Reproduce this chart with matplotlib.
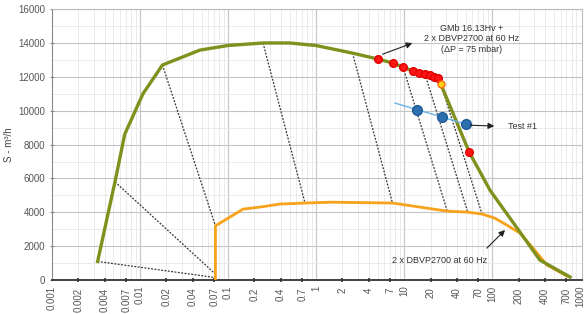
#Pump-down chart: roots + screw pump curves on log pressure axis.

import numpy as np
import matplotlib.pyplot as plt
from matplotlib.ticker import FixedLocator

# green curve: GMb 16.13Hv + 2 x DBVP2700
green_x = [0.0033, 0.0052, 0.0067, 0.0108, 0.018, 0.048, 0.1, 0.25, 0.5, 1.0, 2.6, 5.07,
           7.5, 9.75, 12.7, 14.8, 17.3, 19.6, 21.8, 24.1, 26.2, 55, 95, 208, 350, 770]
green_y = [1100, 5800, 8600, 11000, 12700, 13580, 13850, 14000, 14000, 13850, 13400, 13050,
           12810, 12575, 12340, 12220, 12160, 12100, 11985, 11925, 11570, 7560, 5300, 2830, 1180, 180]

# orange curve: 2 x DBVP2700 at 60 Hz
orange_x = [0.072, 0.072, 0.148, 0.23, 0.39, 0.75, 1.5, 7.4, 31, 53, 77, 107, 147, 208, 292, 420, 710]
orange_y = [0, 3200, 4190, 4310, 4490, 4550, 4600, 4550, 4070, 4010, 3900, 3660, 3250, 2770, 1890, 890, 240]

# measured points (red) and the last yellow one
red_x = [5.07, 7.5, 9.75, 12.7, 14.8, 17.3, 19.6, 21.8, 24.1, 55]
red_y = [13050, 12810, 12575, 12340, 12220, 12160, 12100, 11985, 11925, 7560]
yellow_x = [26.2]
yellow_y = [11570]

# Test #1
test_x = [14.1, 27, 50.7]
test_y = [10040, 9620, 9210]
test_line_x = [7.9, 55]
test_line_y = [10450, 9150]

# dotted connectors (green -> orange)
conn_start_x = [0.0033, 0.0052, 0.018, 0.25, 2.6, 9.75, 17.3, 26.2]
conn_start_y = [1100, 5800, 12700, 14000, 13400, 12575, 12160, 11570]
conn_end_x = [0.072, 0.072, 0.072, 0.75, 7.4, 31, 53, 77]
conn_end_y = [150, 350, 3200, 4550, 4550, 4070, 4010, 3900]

decade_ticks = [0.001, 0.01, 0.1, 1, 10, 100, 1000]
decade_labels = ['0.001', '0.01', '0.1', '1', '10', '100', '1000']
mid_ticks = [0.002, 0.004, 0.007, 0.02, 0.04, 0.07, 0.2, 0.4, 0.7, 2, 4, 7,
             20, 40, 70, 200, 400, 700]
mid_labels = ['0.002', '0.004', '0.007', '0.02', '0.04', '0.07', '0.2', '0.4', '0.7',
              '2', '4', '7', '20', '40', '70', '200', '400', '700']


def main():
    plt.rcParams['font.family'] = ['Liberation Sans', 'DejaVu Sans']
    fig = plt.figure(figsize=(5.86, 3.14), dpi=100)
    ax = fig.add_axes([0.0887, 0.108, 0.9043, 0.863])

    ax.set_xscale('log')
    ax.set_xlim(0.001, 1050)
    ax.set_ylim(0, 16000)

    # grid
    ax.set_yticks(np.arange(0, 16001, 2000))
    ax.set_yticks(np.arange(1000, 16000, 2000), minor=True)
    ax.grid(axis='y', which='major', color='#c4c4c4', lw=0.8, zorder=0)
    ax.grid(axis='y', which='minor', color='#e6e6e6', lw=0.6, zorder=0)
    fine = [m * d for d in decade_ticks[:-1] for m in range(2, 10)]
    ax.vlines(fine, 0, 1, transform=ax.get_xaxis_transform(), color='#e8e8e8', lw=0.6, zorder=0)
    ax.vlines(decade_ticks[1:-1], 0, 1, transform=ax.get_xaxis_transform(), color='#c4c4c4', lw=0.8, zorder=0)

    ax.xaxis.set_major_locator(FixedLocator(decade_ticks))
    ax.set_xticklabels(decade_labels)
    ax.xaxis.set_minor_locator(FixedLocator(mid_ticks))
    ax.set_xticks(mid_ticks, mid_labels, minor=True)
    for lab in ax.get_xticklabels(which='both'):
        lab.set_rotation(90)
    ax.tick_params(axis='x', which='major', length=0, labelsize=7, labelcolor='#555555', pad=4)
    ax.tick_params(axis='x', which='minor', length=3, width=1.2, direction='inout', color='#333333',
                   labelsize=7, labelcolor='#555555', pad=4)
    ax.tick_params(axis='y', which='major', length=3, direction='inout', color='#888888',
                   labelsize=7, labelcolor='#555555')
    ax.tick_params(axis='y', which='minor', length=0)

    for s in ['top', 'right']:
        ax.spines[s].set_color('#bbbbbb')
    ax.spines['left'].set_color('#888888')
    ax.spines['bottom'].set_color('#333333')
    ax.spines['bottom'].set_linewidth(1.3)

    ax.set_ylabel('S - m³/h', fontsize=7, color='#444444')
    ax.yaxis.set_label_coords(-0.072, 0.5)

    # dotted connectors
    for x0, y0, x1, y1 in zip(conn_start_x, conn_start_y, conn_end_x, conn_end_y):
        ax.plot([x0, x1], [y0, y1], color='#333333', lw=0.9, ls=(0, (1.5, 1.2)), zorder=2)

    ax.plot(orange_x, orange_y, color='#f7a21b', lw=2, zorder=3)
    ax.plot(green_x, green_y, color='#7f901c', lw=2.4, zorder=4)

    ax.plot(test_line_x, test_line_y, color='#6ab4e6', lw=1, zorder=5)
    ax.plot(test_x, test_y, 'o', color='#2e6fb0', mec='#1f5a96', ms=7, zorder=6)
    ax.plot(red_x, red_y, 'o', color='#ff1414', mec='#e00000', ms=5.5, zorder=6)
    ax.plot(yellow_x, yellow_y, 'o', color='#ffd21a', mec='#ff6a00', ms=5, zorder=6)

    arrow = dict(arrowstyle='-|>', color='#222222', lw=0.8, mutation_scale=9)
    ax.annotate('', xy=(13.3, 14050), xytext=(5.34, 13280), arrowprops=arrow, zorder=7)
    ax.text(58, 14250, 'GMb 16.13Hv +\n2 x DBVP2700 at 60 Hz\n(ΔP = 75 mbar)', fontsize=6.5,
            color='#333333', ha='center', va='center', linespacing=1.2)

    ax.annotate('', xy=(114, 9090), xytext=(52, 9150), arrowprops=arrow, zorder=7)
    ax.text(151, 9090, 'Test #1', fontsize=6.5, color='#333333', ha='left', va='center')

    ax.annotate('', xy=(148, 3070), xytext=(83, 1770), arrowprops=arrow, zorder=7)
    ax.text(25.6, 1180, '2 x DBVP2700 at 60 Hz', fontsize=6.5, color='#333333', ha='center', va='center')

    fig.savefig('out.png', dpi=100)


if __name__ == "__main__":
    main()
